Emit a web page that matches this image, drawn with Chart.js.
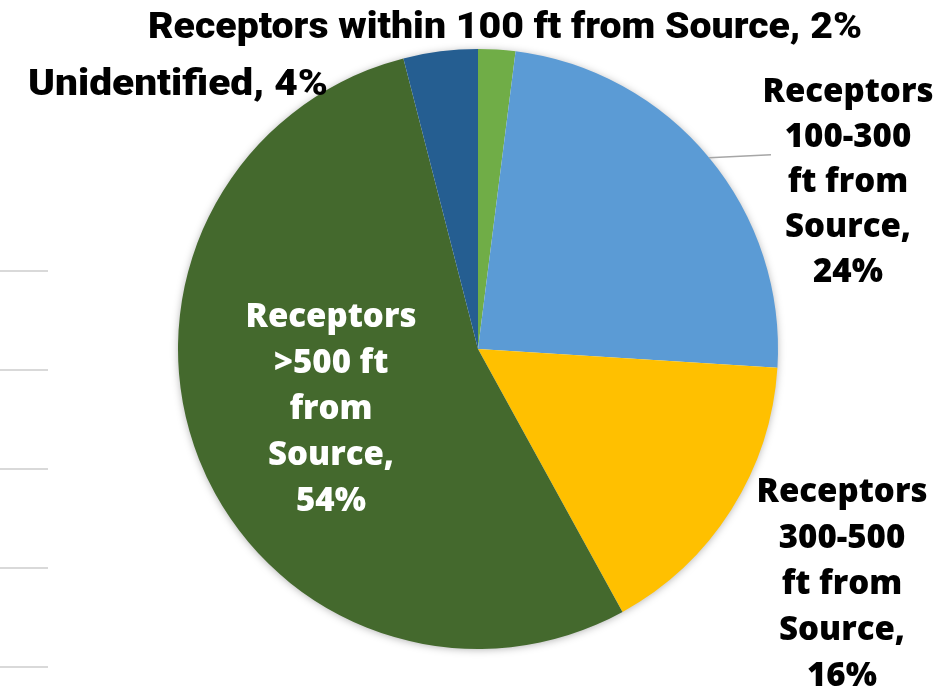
<!DOCTYPE html>
<html>
<head>
<meta charset="utf-8">
<title>Receptors by distance from source</title>
<script src="https://cdn.jsdelivr.net/npm/chart.js@4/dist/chart.umd.min.js"></script>
<style>
  html, body { margin: 0; padding: 0; background: #ffffff; }
  canvas { display: block; }
</style>
</head>
<body>
<canvas id="chart" width="935" height="694"></canvas>
<script>
// Categories and their shares (percent of receptors)
const categories = [
  'Receptors within 100 ft from Source',
  'Receptors 100-300 ft from Source',
  'Receptors 300-500 ft from Source',
  'Receptors >500 ft from Source',
  'Unidentified'
];
const shares = [2, 24, 16, 54, 4];
const sliceColors = ['#70AD47', '#5B9BD5', '#FFC000', '#44692D', '#255E91'];

// How many words of each data label go on each line
const labelWordsPerLine = [[7], [1, 1, 2, 1, 1], [1, 1, 2, 1, 1], [1, 2, 1, 1, 1], [2]];

// Label placement and typography
const labelStyle = [
  { x: 505, y: 38,  lh: 0,  color: '#000', family: 'Roboto', weight: 900, size: 37, fit: 714 },
  { x: 848, y: 102, lh: 45, color: '#000', family: '"Open Sans"', weight: 800, size: 33 },
  { x: 842, y: 502, lh: 46, color: '#000', family: '"Open Sans"', weight: 800, size: 33 },
  { x: 331, y: 327, lh: 46, color: '#fff', family: '"Open Sans"', weight: 800, size: 33 },
  { x: 178, y: 95,  lh: 0,  color: '#000', family: 'Roboto', weight: 900, size: 37, fit: 300 }
];

// Short grey rules at the left edge of the slide
const sideRuleY = [271, 370, 469, 568, 667];

function labelLines(i) {
  const words = (categories[i] + ', ' + shares[i] + '%').split(' ');
  const lines = [];
  let k = 0;
  for (const n of labelWordsPerLine[i]) {
    lines.push(words.slice(k, k + n).join(' '));
    k += n;
  }
  return lines;
}

const decorations = {
  id: 'decorations',
  beforeDatasetsDraw(chart) {
    const ctx = chart.ctx;
    ctx.save();
    ctx.strokeStyle = '#D9D9D9';
    ctx.lineWidth = 2;
    for (const y of sideRuleY) {
      ctx.beginPath();
      ctx.moveTo(0, y);
      ctx.lineTo(48, y);
      ctx.stroke();
    }
    // soft shadow beneath the pie
    const arc = chart.getDatasetMeta(0).data[0];
    ctx.shadowColor = 'rgba(0,0,0,0.35)';
    ctx.shadowBlur = 9;
    ctx.shadowOffsetX = 0;
    ctx.shadowOffsetY = 1;
    ctx.fillStyle = '#ffffff';
    ctx.beginPath();
    ctx.arc(arc.x, arc.y, arc.outerRadius - 1, 0, Math.PI * 2);
    ctx.fill();
    ctx.restore();
  },
  afterDatasetsDraw(chart) {
    const ctx = chart.ctx;
    const meta = chart.getDatasetMeta(0);
    ctx.save();

    // leader line from the 100-300 ft slice to its label
    const a = meta.data[1];
    const mid = (a.startAngle + a.endAngle) / 2;
    const sx = a.x + Math.cos(mid) * a.outerRadius;
    const sy = a.y + Math.sin(mid) * a.outerRadius;
    ctx.strokeStyle = '#A6A6A6';
    ctx.lineWidth = 1.5;
    ctx.beginPath();
    ctx.moveTo(sx, sy);
    ctx.lineTo(771, sy - 3);
    ctx.stroke();

    ctx.textAlign = 'center';
    ctx.textBaseline = 'alphabetic';
    categories.forEach((_, i) => {
      const st = labelStyle[i];
      ctx.font = st.weight + ' ' + st.size + 'px ' + st.family;
      ctx.fillStyle = st.color;
      labelLines(i).forEach((line, j) => {
        const y = st.y + j * st.lh;
        if (st.fit) {
          const w = ctx.measureText(line).width;
          ctx.save();
          ctx.translate(st.x, y);
          ctx.scale(st.fit / w, 1);
          ctx.fillText(line, 0, 0);
          ctx.restore();
        } else {
          ctx.fillText(line, st.x, y);
        }
      });
    });
    ctx.restore();
  }
};

new Chart(document.getElementById('chart'), {
  type: 'pie',
  data: {
    labels: categories,
    datasets: [{
      data: shares,
      backgroundColor: sliceColors,
      borderWidth: 0
    }]
  },
  options: {
    responsive: false,
    animation: false,
    layout: { padding: { left: 178, right: 157, top: 49, bottom: 45 } },
    plugins: {
      legend: { display: false },
      tooltip: { enabled: false }
    }
  },
  plugins: [decorations]
});
</script>
</body>
</html>
